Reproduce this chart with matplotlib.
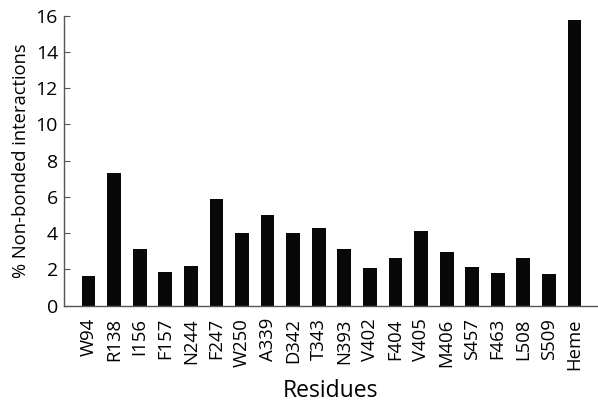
import numpy as np
import matplotlib.pyplot as plt

residues = ['W94', 'R138', 'I156', 'F157', 'N244', 'F247', 'W250', 'A339', 'D342', 'T343',
            'N393', 'V402', 'F404', 'V405', 'M406', 'S457', 'F463', 'L508', 'S509', 'Heme']
percent = [1.62, 7.33, 3.12, 1.84, 2.19, 5.88, 3.99, 4.98, 4.02, 4.26,
           3.12, 2.09, 2.63, 4.12, 2.94, 2.15, 1.78, 2.65, 1.73, 15.75]

plt.rcParams['font.family'] = ['Open Sans', 'DejaVu Sans']

fig = plt.figure(figsize=(5.98, 4.05), dpi=100)
ax = fig.add_axes([63.5 / 598, 1 - 305.7 / 405, 1 - 63.5 / 598, (305.7 - 15.7) / 405])

x = np.arange(len(residues))
ax.bar(x, percent, width=0.54, color='#080808')

ax.set_xlim(-0.98, 19.92)
ax.set_ylim(0, 16)
ax.set_yticks(range(0, 17, 2))
ax.set_xticks(x)
ax.set_xticklabels(residues, rotation=90, fontsize=13.3)
ax.tick_params(axis='y', direction='in', length=4, labelsize=14, pad=4, color='#555555')
ax.tick_params(axis='x', length=0, pad=9)
ax.spines['top'].set_visible(False)
ax.spines['right'].set_visible(False)
for s in ['left', 'bottom']:
    ax.spines[s].set_color('#555555')
    ax.spines[s].set_linewidth(1)

ax.set_xlabel('Residues', fontsize=16.5, labelpad=7)
ax.set_ylabel('% Non-bonded interactions', fontsize=13.2, labelpad=4)

fig.savefig('out.png', dpi=100)
